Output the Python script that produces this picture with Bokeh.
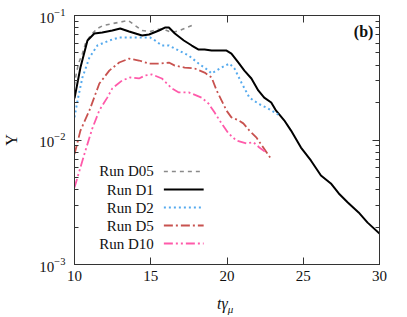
from bokeh.plotting import figure
from bokeh.models import ColumnDataSource, FixedTicker, LinearAxis, LogAxis, Label, CustomJSTickFormatter, Div
from bokeh.layouts import column
from bokeh.core.properties import value
from bokeh.embed import file_html
from bokeh.resources import INLINE

# ---- data ----
d05_t = [10.0, 10.07, 10.26, 10.52, 10.72, 11.04, 11.5, 11.89, 12.54, 13.19, 13.52, 13.97, 14.43, 14.95, 15.41, 15.86, 16.38, 16.91, 17.36, 17.69]
d05_y = [0.0274, 0.0318, 0.0411, 0.0495, 0.0596, 0.069, 0.0787, 0.0832, 0.0863, 0.0895, 0.0912, 0.0832, 0.0758, 0.0743, 0.0773, 0.0773, 0.073, 0.0758, 0.080, 0.0832]

d1_t = [10.0, 10.39, 10.85, 11.3, 11.82, 12.48, 13.0, 13.58, 14.43, 14.89, 15.54, 15.93, 16.19, 16.58, 17.17, 17.69, 18.14, 18.53, 18.99, 19.64, 19.97,
        20.29, 20.75, 21.14, 21.6, 22.05, 22.44, 22.9, 23.22, 23.75, 24.2, 24.85, 25.5, 26.16, 26.81, 27.33, 27.92, 28.63, 29.22, 30.0]
d1_y = [0.0216, 0.0382, 0.063, 0.0716, 0.073, 0.0758, 0.0787, 0.0743, 0.069, 0.0704, 0.0758, 0.080, 0.080, 0.0716, 0.063, 0.0574, 0.0533, 0.0533, 0.0523, 0.0523, 0.0523,
        0.0495, 0.0419, 0.0361, 0.0312, 0.025, 0.0219, 0.020, 0.0172, 0.0144, 0.0119, 0.0087, 0.00685, 0.00519, 0.00448, 0.00372, 0.00315, 0.00262, 0.00217, 0.00177]

d2_t = [10.0, 10.2, 10.52, 10.98, 11.5, 12.28, 12.93, 13.58, 14.23, 14.95, 15.28, 15.73, 16.19, 16.84, 17.49, 18.14, 18.79, 18.99, 19.64, 20.16, 20.49,
        20.94, 21.47, 22.05, 22.7, 23.36]
d2_y = [0.0152, 0.0208, 0.0318, 0.046, 0.0574, 0.063, 0.0666, 0.0666, 0.0666, 0.0666, 0.063, 0.0574, 0.0574, 0.0523, 0.0477, 0.0411, 0.0361, 0.0342, 0.0382, 0.0411, 0.0375,
        0.029, 0.0219, 0.0196, 0.0179, 0.016]

d5_t = [10.0, 10.39, 10.98, 11.63, 12.28, 12.93, 13.58, 14.23, 14.89, 15.54, 16.19, 16.58, 17.23, 17.88, 18.53, 18.99, 19.32, 19.64, 19.97, 20.29, 20.75,
        21.07, 21.47, 21.92, 22.38, 22.83]
d5_y = [0.0077, 0.0119, 0.0173, 0.0284, 0.0361, 0.0419, 0.0451, 0.0435, 0.0411, 0.0411, 0.0419, 0.0396, 0.0382, 0.0375, 0.0348, 0.0318, 0.025, 0.0208, 0.0172, 0.0152, 0.0144,
        0.0136, 0.0119, 0.0105, 0.0087, 0.00723]

d10_t = [10.0, 10.33, 10.72, 11.17, 11.63, 12.15, 12.48, 13.13, 13.65, 14.23, 14.63, 15.08, 15.73, 16.38, 16.84, 17.49, 18.34, 18.79, 19.19, 19.64, 20.1,
         20.62, 21.27, 21.73, 22.12, 22.57]
d10_y = [0.00415, 0.00569, 0.00824, 0.0124, 0.0173, 0.0219, 0.026, 0.0301, 0.0318, 0.0312, 0.033, 0.0336, 0.0312, 0.026, 0.0241, 0.0241, 0.0219, 0.0196, 0.0166, 0.0136, 0.0113,
         0.0099, 0.0094, 0.0096, 0.0087, 0.00794]

run_names = ["Run D05", "Run D1", "Run D2", "Run D5", "Run D10"]
x_ticks = [10, 15, 20, 25, 30]
y_ticks = [1e-3, 1e-2, 1e-1]
y_tick_labels = {"0.001": "10\u207b\u00b3", "0.01": "10\u207b\u00b2", "0.1": "10\u207b\u00b9"}

# ---- styles ----
series = [
    (d05_t, d05_y, "#8a8a8a", "4 4", 1.6),
    (d1_t, d1_y, "#000000", "solid", 2.0),
    (d2_t, d2_y, "#55aaee", "2 3", 2.0),
    (d5_t, d5_y, "#c8524f", "9 3 2 3", 1.8),
    (d10_t, d10_y, "#ff5aaa", "9 3 2 3 2 3", 1.8),
]
FONT = "Liberation Serif"
AX = "#333333"

p = figure(width=400, height=290, x_range=(10, 30), y_range=(1e-3, 1e-1),
           y_axis_type="log", output_backend="svg", toolbar_location=None,
           min_border_left=72, min_border_right=21, min_border_top=15, min_border_bottom=26)
p.grid.visible = False
p.outline_line_color = AX
p.background_fill_color = "white"
p.border_fill_color = "white"

minor = [m * 10.0 ** e for e in (-3, -2) for m in range(2, 10)]
yt = FixedTicker(ticks=y_ticks, minor_ticks=minor)
xt = FixedTicker(ticks=x_ticks, minor_ticks=[])

p.xaxis.ticker = xt
p.yaxis.ticker = yt
p.yaxis.major_label_overrides = y_tick_labels

blank = CustomJSTickFormatter(code="return ''")
top = LinearAxis(ticker=xt, formatter=blank, major_label_standoff=0)
right = LogAxis(ticker=yt, formatter=blank, major_label_standoff=0)
p.add_layout(top, "above")
p.add_layout(right, "right")

for ax in p.xaxis + p.yaxis:
    ax.axis_line_color = AX
    ax.major_tick_line_color = AX
    ax.minor_tick_line_color = AX
    ax.major_tick_in = 7
    ax.major_tick_out = 0
    ax.minor_tick_in = 4
    ax.minor_tick_out = 0
    ax.major_label_text_font = FONT
    ax.major_label_text_color = "#111111"
    ax.major_label_text_font_size = "15px"
top.major_label_text_font_size = "1px"
right.major_label_text_font_size = "1px"

p.below[0].major_label_standoff = 6
left = p.left[0]
left.major_label_standoff = 9
left.axis_label = "\u03a5"
left.axis_label_text_font = FONT
left.axis_label_text_font_style = "normal"
left.axis_label_text_font_size = "16px"
left.axis_label_text_color = "#111111"
left.axis_label_standoff = 16

for (t, y, c, dash, w) in series:
    src = ColumnDataSource(dict(t=t, y=y))
    p.line("t", "y", source=src, line_color=c, line_dash=dash, line_width=w)

# ---- legend (labels on the left, samples on the right) ----
leg_text_x = 15.2
leg_line_x0 = 15.86
leg_line_x1 = 18.47
leg_log_y0 = -2.253
leg_dlog = 0.1446
for i, (name, (t, y, c, dash, w)) in enumerate(zip(run_names, series)):
    ly = 10 ** (leg_log_y0 - i * leg_dlog)
    p.text(x=[leg_text_x], y=[ly], text=[name], text_align="right", text_baseline="middle",
           text_font=value(FONT), text_font_size="15px", text_color="#111111")
    p.line(x=[leg_line_x0, leg_line_x1], y=[ly, ly], line_color=c, line_dash=dash, line_width=w)

p.add_layout(Label(x=29.6, y=10 ** -1.13, text="(b)", text_font=FONT, text_font_style="bold",
                   text_font_size="16px", text_align="right", text_baseline="middle", text_color="#111111"))

# x-axis title t gamma_mu as real HTML text under the plot
xlabel = Div(text="<i>t\u03b3</i><sub style='font-size:11px'><i>\u03bc</i></sub>", width=400, height=22,
             styles={"font-family": FONT, "font-size": "16px", "color": "#111111",
                     "padding-left": "212px", "line-height": "18px"})

open("out.html", "w").write(file_html(column(p, xlabel, spacing=0), INLINE))
